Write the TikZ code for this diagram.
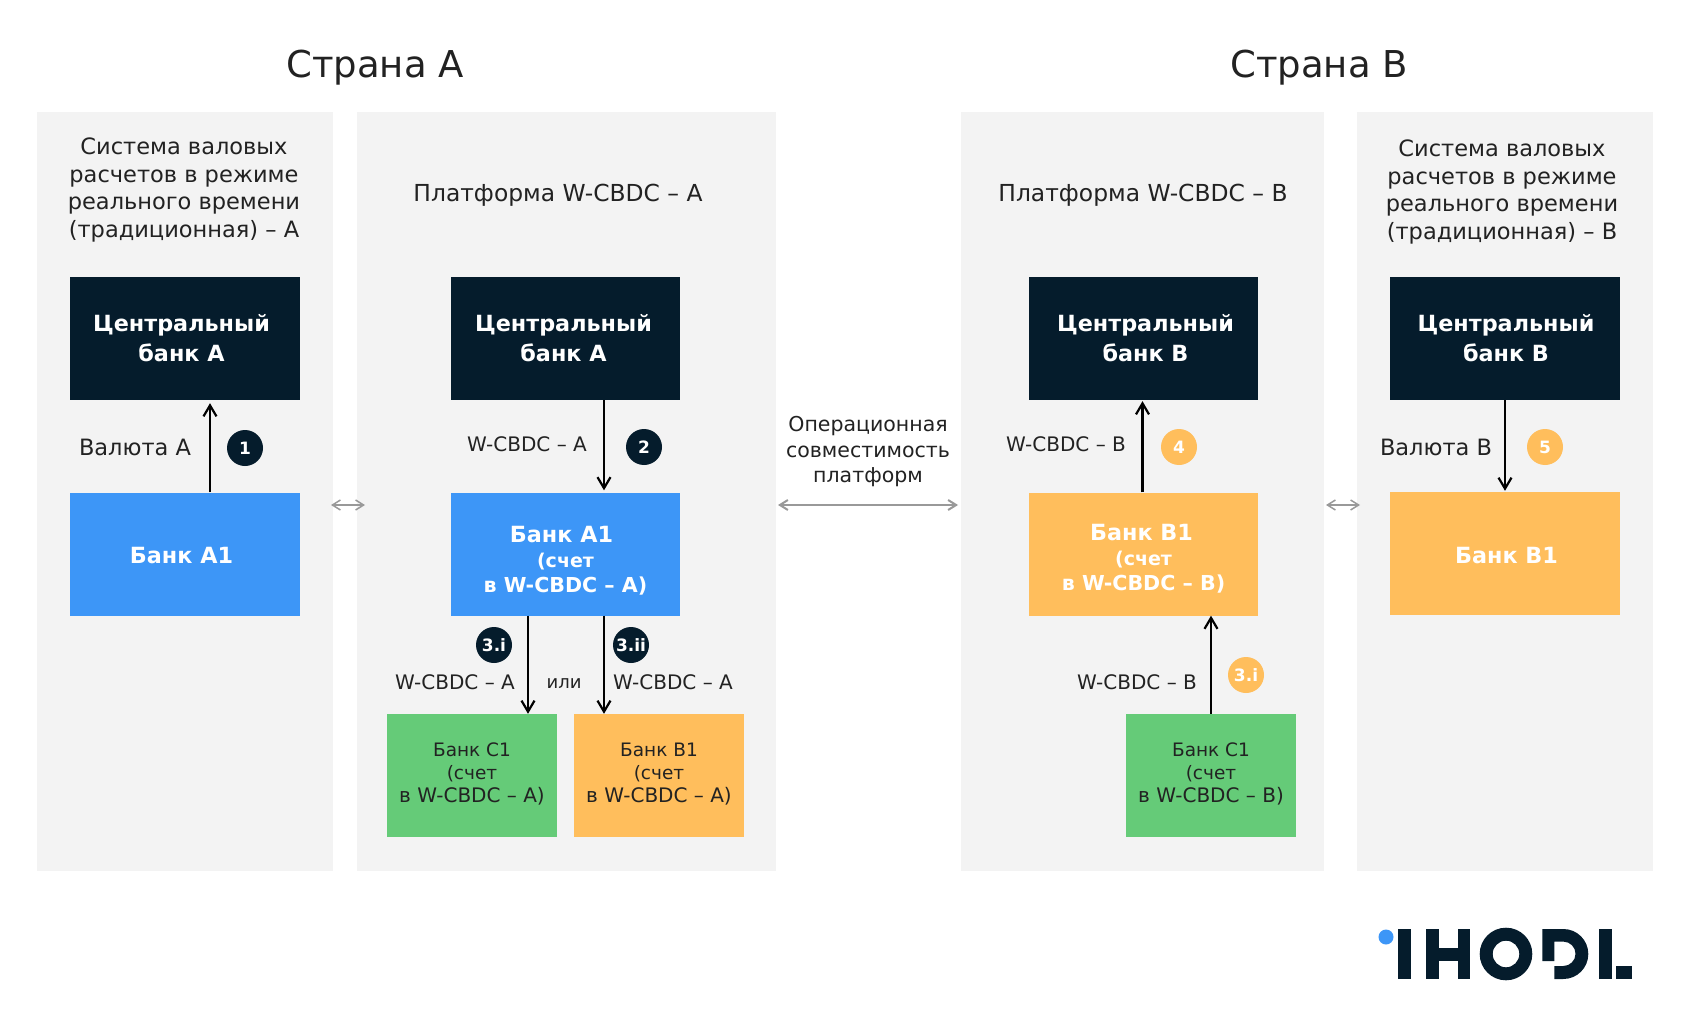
\documentclass[tikz,border=0pt]{standalone}
\usepackage{xcolor}
\usepackage{fontspec}
\setmainfont{DejaVu Sans}
\usetikzlibrary{arrows.meta,positioning}
\definecolor{navy}{HTML}{051C2C}
\definecolor{bankblue}{HTML}{3D96F7}
\definecolor{bankorange}{HTML}{FFBE5C}
\definecolor{bankgreen}{HTML}{65CB78}
\definecolor{panelgray}{HTML}{F3F3F3}
\definecolor{inktext}{HTML}{222222}
\newcommand{\fsize}[2]{\fontsize{#1}{#2}\selectfont}
\newcommand{\padr}[1]{\hspace*{#1pt}}
\newcommand{\acct}{\fsize{19}{24}}
\newcommand{\acctwide}{\fsize{20.6}{24}}
\newcommand{\wide}{\fsize{20}{23}}
\tikzset{
  panel/.style={fill=panelgray,minimum width=#1,minimum height=758,inner sep=0},
  bigbox/.style={fill=#1,minimum width=229.5,minimum height=123,inner sep=0,align=center,text=white,font=\fsize{22.3}{30}\bfseries},
  smallbox/.style={fill=#1,minimum width=170,minimum height=123,inner sep=0,align=center,text=inktext,font=\fsize{18.5}{23}},
  title/.style={text=inktext,font=\fsize{37}{44}},
  paneltext/.style={text=inktext,align=center,font=\fsize{22.5}{27.5}},
  flowlabel/.style={text=inktext,font=\fsize{20}{24},align=center},
  flow/.style={-{Straight Barb[length=11pt,width=13pt]},line width=2.2pt,black},
  link/.style={{Straight Barb[length=8pt,width=10pt]}-{Straight Barb[length=8pt,width=10pt]},line width=1.5pt,gray!80},
  badge/.style={circle,fill=#1,minimum size=36,inner sep=0,text=white,font=\fsize{17}{20}\bfseries},
}
\begin{document}
\begin{tikzpicture}[x=1pt,y=-1pt]
  \useasboundingbox (0,0) rectangle (1684,1027);
  \fill[white] (0,0) rectangle (1684,1027);
  \node[title] (titleA) at (375,68) {Страна А};
  \node[title] (titleB) at (1319,68) {Страна В};
  % gray columns
  \foreach \n/\x/\w in {rtgsA/185/296, wcbdcA/566.5/419, wcbdcB/1142.5/363, rtgsB/1505/296}{
    \node[panel=\w] (\n) at (\x,491.5) {};
  }
  \node[paneltext] (textrtgsA) at (184,190) {Система валовых\\расчетов в режиме\\реального времени\\(традиционная) – А};
  \node[paneltext,font=\fsize{23.4}{27.5}] (textwcbdcA) at (558,195) {Платформа W-CBDC – А};
  \node[paneltext,font=\fsize{23.4}{27.5}] (textwcbdcB) at (1143,195) {Платформа W-CBDC – В};
  \node[paneltext] (textrtgsB) at (1502,192) {Система валовых\\расчетов в режиме\\реального времени\\(традиционная) – В};

  % central banks
  \node[bigbox=navy] (cbA1) at (185,338.5) {Центральный\padr{7}\\банк А\padr{7}};
  \node[bigbox=navy] (cbA2) at (565.5,338.5) {Центральный\padr{4}\\банк А\padr{4}};
  \node[bigbox=navy] (cbB2) at (1143.5,338.5) {\padr{4}Центральный\\\padr{4}банк В};
  \node[bigbox=navy] (cbB1) at (1505,338.5) {\padr{2}Центральный\\\padr{2}банк В};

  % banks
  \node[bigbox=bankblue] (bankA1) at (185,554) {\rule{0pt}{19pt}Банк А1\padr{7}};
  \node[bigbox=bankblue] (bankA2) at (565.5,554) {\rule{0pt}{30pt}Банк А1\padr{8}\\[-5pt]\acct (счет\\[-5pt]\acctwide в W-CBDC – А)};
  \node[bigbox=bankorange] (bankB2) at (1143.5,554) {\rule{0pt}{26pt}Банк В1\padr{4}\\[-5pt]\acct (счет\\[-5pt]\acctwide в W-CBDC – В)};
  \node[bigbox=bankorange] (bankB1) at (1505,553.5) {\rule{0pt}{21pt}\padr{3}Банк В1};
  \node[smallbox=bankgreen] (clientC) at (472,775.5) {Банк С1\\(счет\\\wide в W-CBDC – А)\rule[-6pt]{0pt}{6pt}};
  \node[smallbox=bankorange] (clientB) at (659,775.5) {Банк В1\\(счет\\\wide в W-CBDC – А)\rule[-6pt]{0pt}{6pt}};
  \node[smallbox=bankgreen] (clientCB) at (1211,775.5) {Банк С1\\(счет\\\wide в W-CBDC – В)\rule[-6pt]{0pt}{6pt}};

  % flows
  \draw[flow] ([xshift=25]bankA1.north) -- ([xshift=25,yshift=-3]cbA1.south);
  \draw[flow] ([xshift=38.5]cbA2.south) -- ([xshift=38.5,yshift=2]bankA2.north);
  \draw[flow] ([xshift=-37.5]bankA2.south) -- ([xshift=56]clientC.north);
  \draw[flow] ([xshift=38.5]bankA2.south) -- ([xshift=-55]clientB.north);
  \draw[flow] ([xshift=-1]bankB2.north) -- ([xshift=-1,yshift=-1]cbB2.south);
  \draw[flow] (cbB1.south) -- ([yshift=1]bankB1.north);
  \draw[flow] (clientCB.north) -- ([xshift=67.5]bankB2.south);

  % links between platforms
  \coordinate (linkAa) at (331,505);
  \coordinate (linkAb) at (365,505);
  \coordinate (linkBa) at (1326,505);
  \coordinate (linkBb) at (1360,505);
  \draw[link] (linkAa) -- (linkAb);
  \draw[link] (linkBa) -- (linkBb);
  \coordinate (opA) at (778,505);
  \coordinate (opB) at (958,505);
  \draw[link,line width=2pt] (opA) -- (opB);
  \node[flowlabel,font=\fsize{20.5}{25.5}] (optext) at (868,452) {Операционная\\совместимость\\платформ};

  % labels
  \node[flowlabel,font=\fsize{22.5}{24}] (lab1) at (135,447) {Валюта А};
  \node[flowlabel] (lab2) at (527,444) {W-CBDC – А};
  \node[flowlabel] (lab4) at (1066,444) {W-CBDC – В};
  \node[flowlabel,font=\fsize{22.5}{24}] (lab5) at (1436,447) {Валюта В};
  \node[flowlabel] (lab3i) at (455,682) {W-CBDC – А};
  \node[flowlabel,font=\fsize{18}{24}] (labor) at (564,684) {или};
  \node[flowlabel] (lab3ii) at (673,682) {W-CBDC – А};
  \node[flowlabel] (lab3b) at (1137,682) {W-CBDC – В};

  % numbers
  \node[badge=navy] (num1) at (245,448) {1};
  \node[badge=navy] (num2) at (644,447) {2};
  \node[badge=navy] (num3i) at (494,645) {3.i};
  \node[badge=navy] (num3ii) at (631,645) {3.ii};
  \node[badge=bankorange] (num4) at (1179,447) {4};
  \node[badge=bankorange] (num5) at (1545,447) {5};
  \node[badge=bankorange] (num3b) at (1246,675) {3.i};

  % logo
  \fill[bankblue] (1386,937) circle (7.5);
  \fill[navy] (1398,929) rectangle (1411,979);
  \fill[navy] (1426,929) rectangle (1438.5,979);
  \fill[navy] (1458,929) rectangle (1470,979);
  \fill[navy] (1438,948) rectangle (1458,961);
  \fill[navy,even odd rule] (1506,954) circle (26.3) (1506,954) circle (13.3);
  \fill[navy] (1542.3,929) -- (1563.3,929) arc[start angle=-90,end angle=90,radius=25] -- (1554.3,979) -- (1554.3,966) -- (1563.3,966) arc[start angle=90,end angle=-90,radius=12.2] -- (1554.3,941.6) -- (1554.3,961) -- (1542.3,961) -- cycle;
  \fill[navy] (1599,929) rectangle (1611.7,979);
  \fill[navy] (1616,966) rectangle (1632,979);
\end{tikzpicture}
\end{document}
